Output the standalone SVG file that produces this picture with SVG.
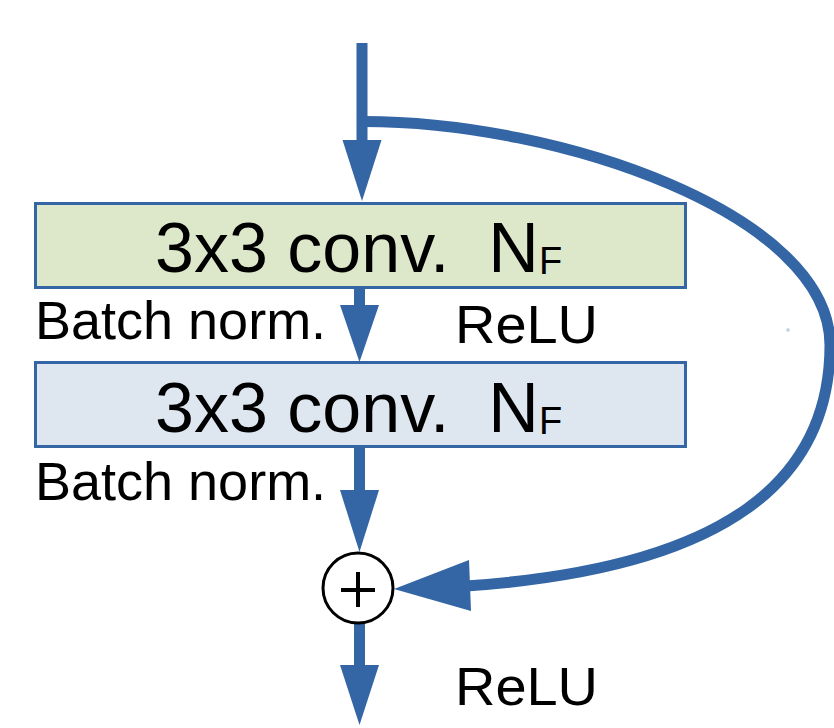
<svg xmlns="http://www.w3.org/2000/svg" width="834" height="728" viewBox="0 0 834 728">
<style>
.box{stroke:#3465a4;stroke-width:3}
.shaft{stroke:#3465a4;stroke-width:11;fill:none}
.head{fill:#3465a4}
.big{font-family:"Liberation Sans",Arial,sans-serif;font-size:70px;fill:#000;white-space:pre}
.sub{font-family:"Liberation Sans",Arial,sans-serif;font-size:38px;fill:#000}
.lbl{font-family:"Liberation Sans",Arial,sans-serif;font-size:54px;fill:#000}
</style>
<rect width="834" height="728" fill="#fff"/>
<g id="connectors">
  <line class="shaft" x1="362" y1="43" x2="362" y2="145"/>
  <polygon class="head" points="342.5,140 381.5,140 362,201"/>
  <path class="shaft" d="M 362 121.5 C 560 121, 830 215, 830 345 C 830 478, 730 568, 466 586"/>
  <polygon class="head" points="394,589 469,560 471,611"/>
  <line class="shaft" x1="359.5" y1="288" x2="359.5" y2="310"/>
  <polygon class="head" points="340,305 379,305 359.5,362"/>
  <line class="shaft" x1="359.5" y1="447" x2="359.5" y2="495"/>
  <polygon class="head" points="340,490 379,490 359.5,552"/>
  <line class="shaft" x1="359.5" y1="624" x2="359.5" y2="670"/>
  <polygon class="head" points="340,665 379,665 359.5,725"/>
</g>
<g id="conv1">
  <rect class="box" x="35.5" y="203.5" width="650" height="84" fill="#dde8cb"/>
  <text class="big" x="155" y="272" xml:space="preserve">3x3 conv.  N<tspan class="sub" dy="2" fill="#000">F</tspan></text>
</g>
<g id="bn1">
  <text class="lbl" x="35" y="339">Batch norm.</text>
</g>
<g id="relu1">
  <text class="lbl" x="455" y="343" textLength="143" lengthAdjust="spacingAndGlyphs">ReLU</text>
</g>
<g id="conv2">
  <rect class="box" x="35.5" y="362.5" width="650" height="84" fill="#dee6ef"/>
  <text class="big" x="155" y="432" xml:space="preserve">3x3 conv.  N<tspan class="sub" dy="2" fill="#000">F</tspan></text>
</g>
<g id="bn2">
  <text class="lbl" x="35" y="500">Batch norm.</text>
</g>
<g id="add">
  <circle cx="358" cy="588" r="35" fill="#fff" stroke="#000" stroke-width="3"/>
  <line x1="341" y1="590" x2="375" y2="590" stroke="#000" stroke-width="4"/>
  <line x1="358" y1="572" x2="358" y2="607" stroke="#000" stroke-width="4"/>
</g>
<g id="relu2">
  <text class="lbl" x="455" y="705" textLength="143" lengthAdjust="spacingAndGlyphs">ReLU</text>
</g>
<rect x="787" y="329" width="2" height="2" fill="none" stroke="#9fb6d6" stroke-width="0.8"/>
</svg>
